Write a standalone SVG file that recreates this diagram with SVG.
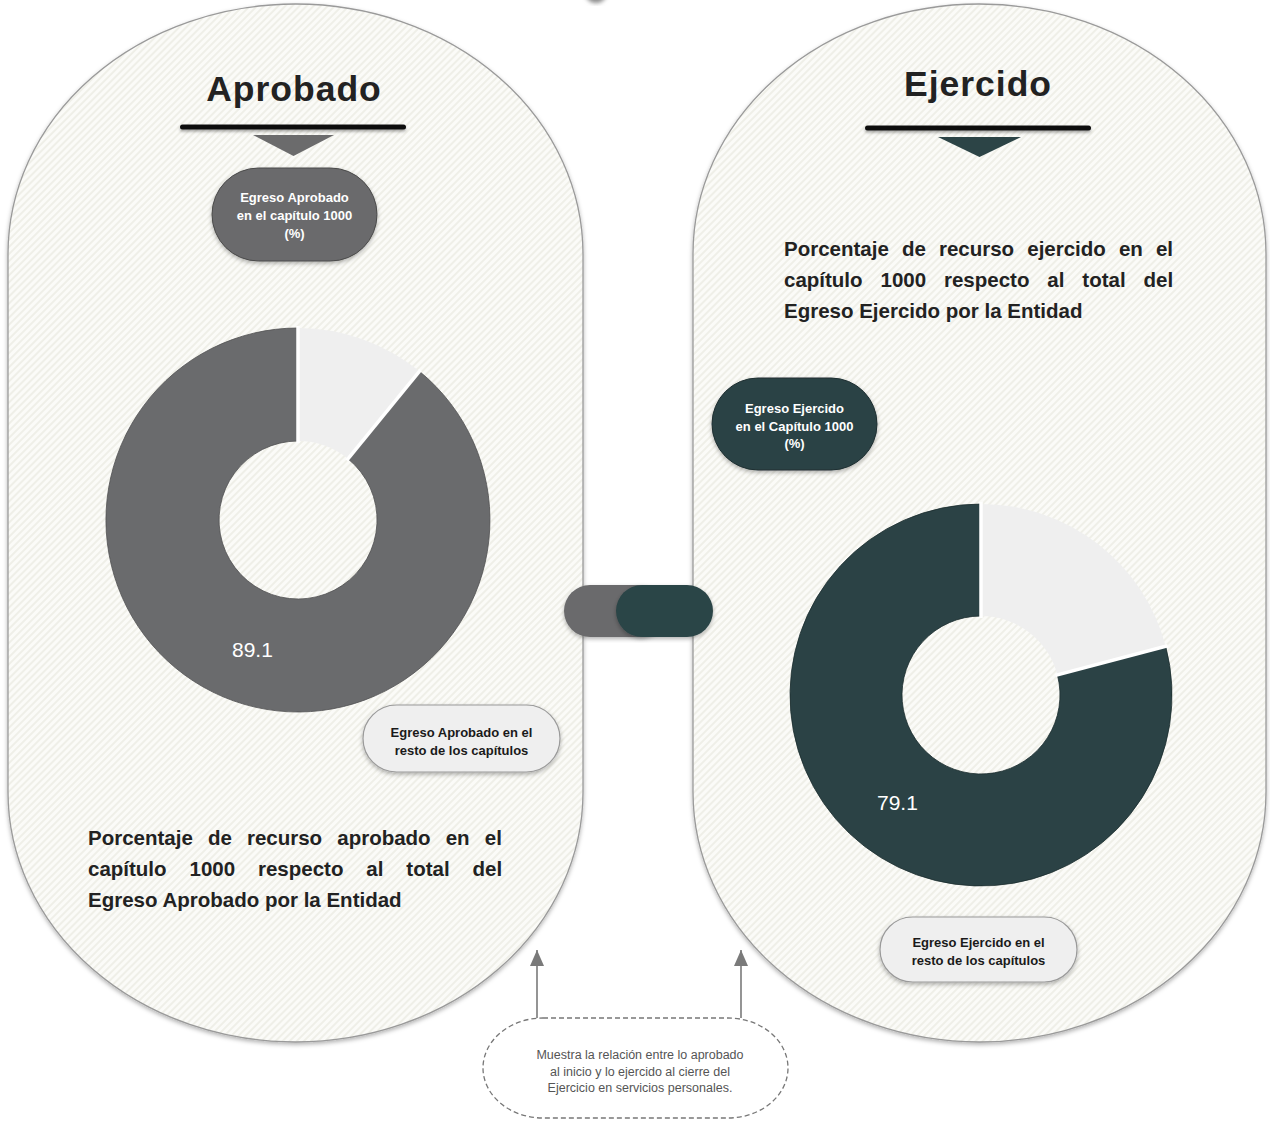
<svg xmlns="http://www.w3.org/2000/svg" width="1270" height="1122" viewBox="0 0 1270 1122">
<defs>
  <pattern id="hatch" width="5" height="5" patternUnits="userSpaceOnUse" patternTransform="rotate(45)">
    <rect width="5" height="5" fill="#fbfbf8"/>
    <rect width="2" height="5" fill="#efefe8"/>
  </pattern>
  <filter id="sh" x="-10%" y="-10%" width="120%" height="120%">
    <feDropShadow dx="0" dy="2" stdDeviation="2" flood-color="#000" flood-opacity="0.3"/>
  </filter>
  <filter id="shs" x="-10%" y="-100%" width="120%" height="300%">
    <feDropShadow dx="0" dy="2" stdDeviation="1.5" flood-color="#000" flood-opacity="0.35"/>
  </filter>
  <filter id="blur"><feGaussianBlur stdDeviation="2"/></filter>
  <marker id="arr" viewBox="0 0 16 14" refX="16" refY="7" markerWidth="16" markerHeight="14" markerUnits="userSpaceOnUse" orient="auto">
    <path d="M0,0 L16,7 L0,14 Z" fill="#7a7a7a"/>
  </marker>
  <style>
    .panel{fill:url(#hatch);stroke:#9a9a9a;stroke-width:1.3}
    .title{font-family:"Liberation Sans",Arial,sans-serif;font-weight:bold;font-size:35.5px;letter-spacing:1px;fill:#222;text-anchor:middle}
    .bar{fill:#111}
    .pilltxt{font-family:"Liberation Sans",Arial,sans-serif;font-weight:bold;font-size:13px;text-anchor:middle}
    .para{font-family:"Liberation Sans",Arial,sans-serif;font-weight:bold;font-size:20.5px;fill:#222}
    .num{font-family:"Liberation Sans",Arial,sans-serif;font-size:21px;fill:#fff}
    .sep{stroke:#fff;stroke-width:3.5}
    .note{font-family:"Liberation Sans",Arial,sans-serif;font-size:12.5px;fill:#555;text-anchor:middle}
    .conn{stroke:#7a7a7a;stroke-width:1.6;fill:none}
  </style>
</defs>
<rect width="1270" height="1122" fill="#fff"/>

<circle cx="596" cy="-8" r="11" fill="#8a8a8a" filter="url(#blur)"/>

<g id="panel-aprobado">
  <rect class="panel" x="8" y="4" width="575" height="1038" rx="287.5" ry="250" filter="url(#sh)"/>
</g>
<g id="panel-ejercido">
  <rect class="panel" x="693" y="4" width="573" height="1038" rx="286.5" ry="250" filter="url(#sh)"/>
</g>

<g id="title-aprobado">
  <text class="title" x="294" y="101">Aprobado</text>
  <rect class="bar" x="180" y="124.5" width="226" height="5" rx="2.5" filter="url(#shs)"/>
  <path d="M253,135 L334,135 L293.5,156 Z" fill="#6b6b6c"/>
</g>
<g id="title-ejercido">
  <text class="title" x="978" y="96">Ejercido</text>
  <rect class="bar" x="865" y="125.5" width="226" height="5" rx="2.5" filter="url(#shs)"/>
  <path d="M938,137 L1021,137 L979.5,157 Z" fill="#2c4446"/>
</g>

<g id="pill-aprobado-cap1000">
  <rect x="212" y="168" width="165" height="93" rx="46.5" fill="#6b6b6c" stroke="#4a4a4a" stroke-width="1" filter="url(#sh)"/>
  <text class="pilltxt" fill="#fff"><tspan x="294.5" y="202">Egreso Aprobado</tspan><tspan x="294.5" y="220">en el capítulo 1000</tspan><tspan x="294.5" y="238">(%)</tspan></text>
</g>

<g id="donut-aprobado">
  <path d="M298,328 A192,192 0 0 1 419.4,371.3 L348,458.8 A79,79 0 0 0 298,441 Z" fill="#efefef"/>
  <path d="M419.4,371.3 A192,192 0 1 1 298,328 L298,441 A79,79 0 1 0 348,458.8 Z" fill="#6a6b6d" stroke="#505052" stroke-width="0.8"/>
  <line class="sep" x1="298" y1="326" x2="298" y2="443"/>
  <line class="sep" x1="420.6" y1="369.8" x2="346.7" y2="460.4"/>
  <text class="num" x="232" y="657">89.1</text>
</g>

<g id="pill-aprobado-resto">
  <rect x="363" y="705" width="197" height="67" rx="33.5" fill="#efefef" stroke="#9a9a9a" stroke-width="1.2" filter="url(#sh)"/>
  <text class="pilltxt" fill="#1a1a1a" font-size="13.5"><tspan x="461.5" y="737">Egreso Aprobado en el</tspan><tspan x="461.5" y="755">resto de los capítulos</tspan></text>
</g>

<g id="text-aprobado">
  <text class="para"><tspan x="88" y="845" word-spacing="9.4">Porcentaje de recurso aprobado en el</tspan><tspan x="88" y="876" word-spacing="17.2">capítulo 1000 respecto al total del</tspan><tspan x="88" y="907">Egreso Aprobado por la Entidad</tspan></text>
</g>

<g id="text-ejercido">
  <text class="para"><tspan x="784" y="256" word-spacing="7.4">Porcentaje de recurso ejercido en el</tspan><tspan x="784" y="287" word-spacing="12.2">capítulo 1000 respecto al total del</tspan><tspan x="784" y="318">Egreso Ejercido por la Entidad</tspan></text>
</g>

<g id="pill-ejercido-cap1000">
  <rect x="712" y="378" width="165" height="92" rx="46" fill="#2c4245" stroke="#1e2f31" stroke-width="1" filter="url(#sh)"/>
  <text class="pilltxt" fill="#fff"><tspan x="794.5" y="413">Egreso Ejercido</tspan><tspan x="794.5" y="431">en el Capítulo 1000</tspan><tspan x="794.5" y="448">(%)</tspan></text>
</g>

<g id="donut-ejercido">
  <path d="M981,504 A191,191 0 0 1 1165.7,646.3 L1057.4,674.9 A79,79 0 0 0 981,616 Z" fill="#efefef"/>
  <path d="M1165.7,646.3 A191,191 0 1 1 981,504 L981,616 A79,79 0 1 0 1057.4,674.9 Z" fill="#2b4245" stroke="#1c2d2f" stroke-width="0.8"/>
  <line class="sep" x1="981" y1="502" x2="981" y2="618"/>
  <line class="sep" x1="1167.6" y1="645.8" x2="1055.5" y2="675.4"/>
  <text class="num" x="877" y="810">79.1</text>
</g>

<g id="pill-ejercido-resto">
  <rect x="880" y="917" width="197" height="65" rx="32.5" fill="#efefef" stroke="#9a9a9a" stroke-width="1.2" filter="url(#sh)"/>
  <text class="pilltxt" fill="#1a1a1a" font-size="13.5"><tspan x="978.5" y="947">Egreso Ejercido en el</tspan><tspan x="978.5" y="965">resto de los capítulos</tspan></text>
</g>

<g id="toggle">
  <rect x="564" y="585" width="102" height="52" rx="26" fill="#6b6b6c" filter="url(#sh)"/>
  <rect x="616" y="585" width="97" height="52" rx="26" fill="#2b4446" filter="url(#sh)"/>
</g>

<g id="note">
  <rect x="483" y="1018" width="305" height="100" rx="60" ry="50" fill="#fff" stroke="#777" stroke-width="1.3" stroke-dasharray="5,3"/>
  <text class="note"><tspan x="640" y="1059">Muestra la relación entre lo aprobado</tspan><tspan x="640" y="1076">al inicio y lo ejercido al cierre del</tspan><tspan x="640" y="1092">Ejercicio en servicios personales.</tspan></text>
</g>

<g id="connectors">
  <line class="conn" x1="537" y1="1018" x2="537" y2="950" marker-end="url(#arr)"/>
  <line class="conn" x1="741" y1="1018" x2="741" y2="950" marker-end="url(#arr)"/>
</g>
</svg>
